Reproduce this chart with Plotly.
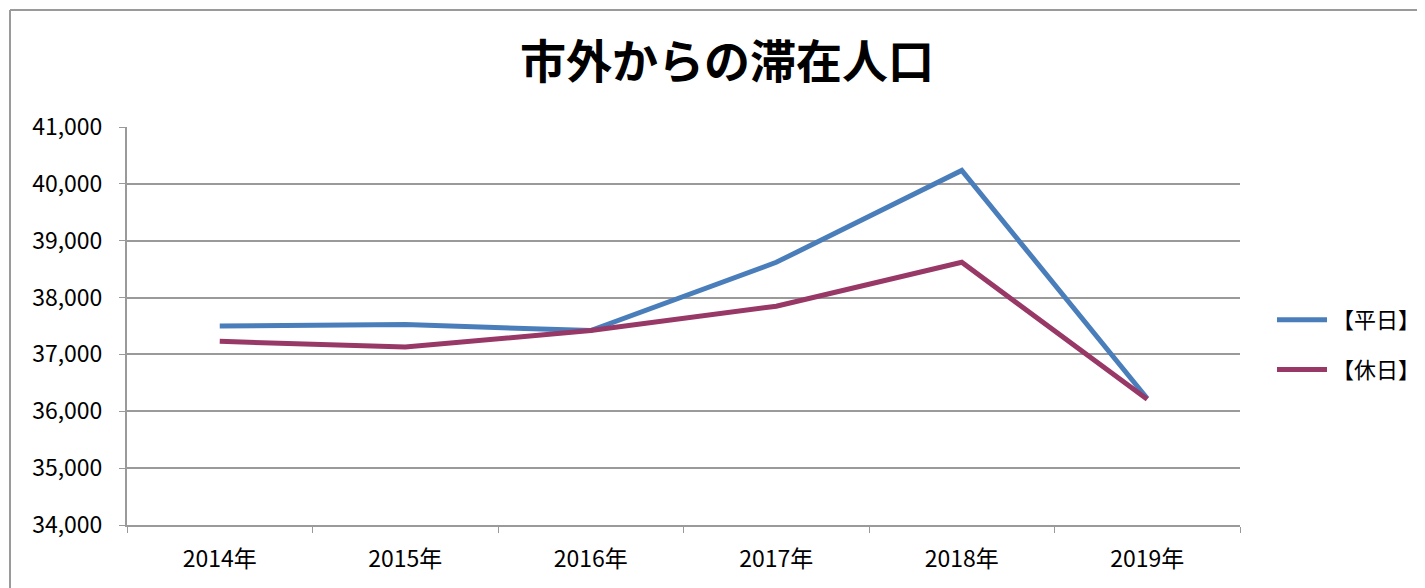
import plotly.graph_objects as go

years = ['2014年', '2015年', '2016年', '2017年', '2018年', '2019年']
heijitsu = [37500, 37525, 37420, 38620, 40235, 36225]
kyujitsu = [37230, 37130, 37420, 37848, 38620, 36210]

FONT = 'Noto Sans CJK JP'

# ページの余白 (body margin 8px) を差し引いたピクセル位置
OFF = 8
W, H = 1425 - OFF, 588 - OFF
L, R, T, B = 127 - OFF, 1240 - OFF, 127 - OFF, 525 - OFF


def px_x(p):
    return (p - OFF - L) / (R - L)


def px_y(p):
    return (B - (p - OFF)) / (B - T)


fig = go.Figure()
fig.add_trace(go.Scatter(x=years, y=heijitsu, name='【平日】', mode='lines',
                         line=dict(color='#4A7EBB', width=5), legendgroup='a'))
fig.add_trace(go.Scatter(x=years, y=kyujitsu, name='【休日】', mode='lines',
                         line=dict(color='#983866', width=5), legendgroup='b'))

fig.update_layout(
    width=W, height=H,
    margin=dict(l=L, r=W - R, t=T, b=H - B, autoexpand=False),
    paper_bgcolor='white', plot_bgcolor='white',
    font=dict(family=FONT, size=23, color='black'),
    title=dict(text='<b>市外からの滞在人口</b>', x=(727 - OFF) / W, xanchor='center',
               y=1 - (62 - OFF) / H, yanchor='middle', font=dict(size=46, family=FONT)),
    legend=dict(xref='container', yref='container',
                x=(1272 - OFF) / W, y=1 - (345 - OFF) / H, xanchor='left', yanchor='middle',
                font=dict(size=22), tracegroupgap=18, itemwidth=50),
    showlegend=True,
)

fig.update_xaxes(type='category', tickson='boundaries', ticks='outside', ticklen=6,
                 tickcolor='#9A9A9A', showline=True, linecolor='#9A9A9A', linewidth=2,
                 showgrid=False, range=[-0.5, 5.5], ticklabelstandoff=12)
fig.update_yaxes(range=[34000, 41000], dtick=1000, tickformat=',', ticks='outside',
                 ticklen=6, tickcolor='#9A9A9A', showline=True, linecolor='#9A9A9A',
                 linewidth=2, gridcolor='#9A9A9A', gridwidth=2, zeroline=False,
                 ticklabelstandoff=12)

# グラフエリアの枠線
fig.add_shape(type='line', xref='paper', yref='paper', x0=px_x(10), x1=px_x(10),
              y0=px_y(10), y1=px_y(H + 30), line=dict(color='#9A9A9A', width=2))
fig.add_shape(type='line', xref='paper', yref='paper', x0=px_x(10), x1=px_x(W + 30),
              y0=px_y(10), y1=px_y(10), line=dict(color='#9A9A9A', width=2))

fig.write_html('out.html')
